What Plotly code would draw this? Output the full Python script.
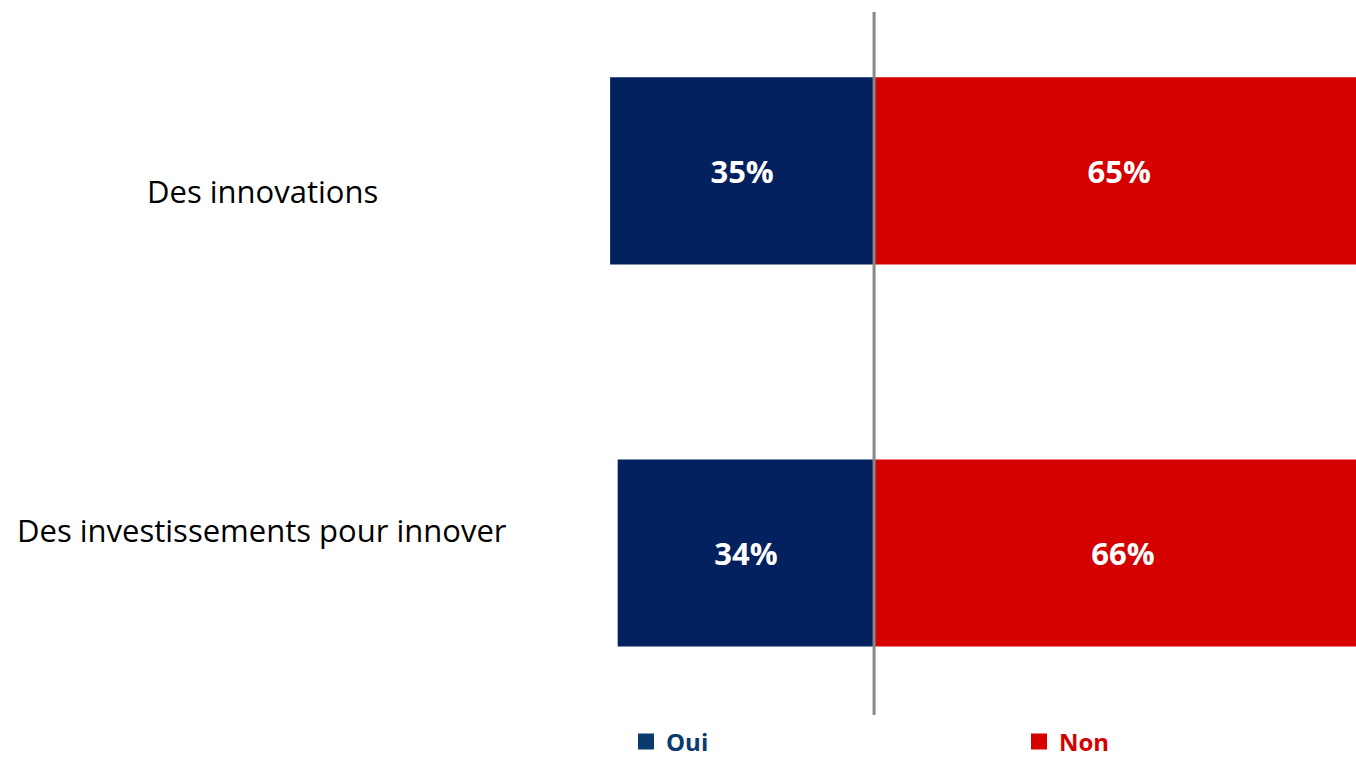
import plotly.graph_objects as go

categories = ["Des innovations", "Des investissements pour innover"]
oui = [35, 34]
non = [65, 66]
series_names = ["Oui", "Non"]

bar_oui = "#03215F"
bar_non = "#D50000"
leg_oui = "#0B3A6E"
leg_non = "#D50000"

ypos = list(range(len(categories)))

fig = go.Figure()
fig.add_trace(go.Bar(
    y=ypos, x=[-v for v in oui], orientation="h", base=0,
    marker=dict(color=bar_oui, line=dict(width=0)),
    text=[f"{v}%" for v in oui], textposition="inside", insidetextanchor="middle",
    textfont=dict(family="Open Sans", size=31, color="white", weight="bold"),
    width=0.49, showlegend=False, cliponaxis=True,
))
fig.add_trace(go.Bar(
    y=ypos, x=non, orientation="h", base=0,
    marker=dict(color=bar_non, line=dict(width=0)),
    text=[f"{v}%" for v in non], textposition="inside", insidetextanchor="middle",
    textfont=dict(family="Open Sans", size=31, color="white", weight="bold"),
    width=0.49, showlegend=False, cliponaxis=True,
))
for name, col, lg in zip(series_names, [leg_oui, leg_non], ["legend", "legend2"]):
    fig.add_trace(go.Scatter(
        x=[None], y=[None], mode="markers", name=f"<span style='color:{col}'><b>{name}</b></span>",
        marker=dict(symbol="square", size=16, color=col), legend=lg,
    ))

for cat, yp in zip(categories, [0.745, 0.263]):
    fig.add_annotation(text=cat, xref="paper", yref="paper", x=262/1356, y=yp,
                       xanchor="center", yanchor="middle", showarrow=False,
                       font=dict(family="Open Sans", size=31, color="black"))

fig.add_shape(type="line", xref="x", yref="paper", x0=0, x1=0, y0=0, y1=1,
              line=dict(color="#878787", width=3))

leg_common = dict(orientation="h", yref="container", y=1 - 742/757, yanchor="middle",
                  xref="container", xanchor="left",
                  itemsizing="trace", bgcolor="rgba(0,0,0,0)",
                  font=dict(family="Open Sans", size=24))
fig.update_layout(
    width=1356, height=757,
    margin=dict(l=0, r=0, t=12, b=42, autoexpand=False),
    plot_bgcolor="white", paper_bgcolor="white",
    barmode="overlay",
    xaxis=dict(range=[-115.9, 63.9], visible=False, fixedrange=True),
    yaxis=dict(range=[1.424, -0.416], visible=False, fixedrange=True),
    legend=dict(x=626/1356, **leg_common),
    legend2=dict(x=1019/1356, **leg_common),
    showlegend=True,
)
fig.write_html("out.html", config={"displayModeBar": False},
               post_script="document.body.style.margin='0';document.body.style.overflow='hidden';")
